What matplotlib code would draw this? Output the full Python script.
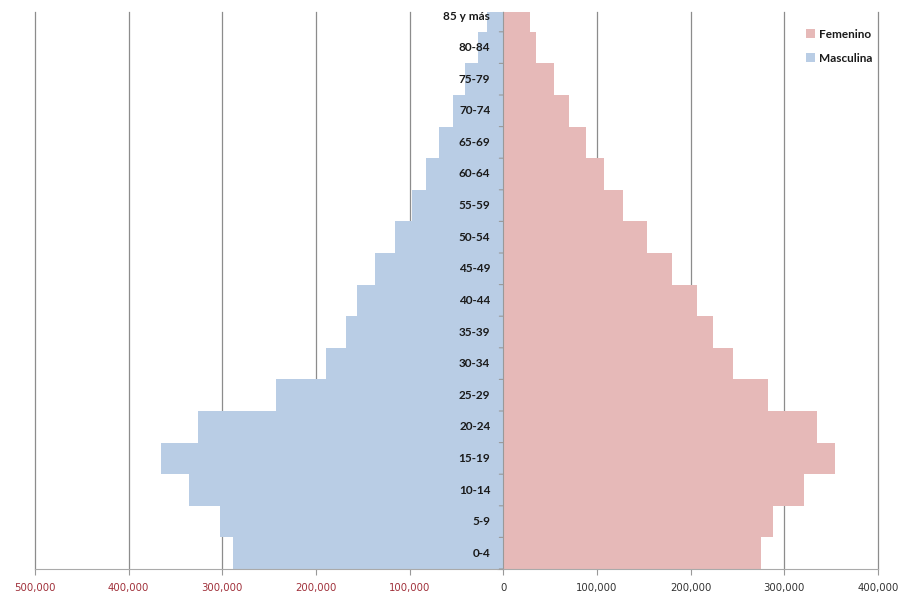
import matplotlib
matplotlib.use("Agg")
import matplotlib.pyplot as plt
from matplotlib.ticker import FuncFormatter, FixedLocator
from matplotlib.transforms import offset_copy
import numpy as np

groups = ["0-4", "5-9", "10-14", "15-19", "20-24", "25-29", "30-34", "35-39",
          "40-44", "45-49", "50-54", "55-59", "60-64", "65-69", "70-74",
          "75-79", "80-84", "85 y más"]
masculina = [288800, 302700, 335800, 365600, 326100, 242900, 189500, 168100,
             156400, 137200, 115800, 97700, 82700, 68900, 53900, 41100, 27200, 17600]
femenino = [274600, 288100, 321100, 353600, 335400, 282700, 245300, 223700,
            206600, 179900, 153200, 127600, 107300, 88100, 69900, 53900, 34700, 28300]
xticks = [-500000, -400000, -300000, -200000, -100000, 0, 100000, 200000, 300000, 400000]

fig = plt.figure(figsize=(9.01, 5.95), dpi=100)
W, H = 901, 595
left, right, top, bottom = 35, 878, 12, 569
ax = fig.add_axes([left / W, (H - bottom) / H, (right - left) / W, (bottom - top) / H])

pos = np.arange(len(groups))
ax.barh(pos, [-v for v in masculina], height=1.0, color="#B9CDE5", label="Masculina", zorder=2)
ax.barh(pos, femenino, height=1.0, color="#E6B9B8", label="Femenino", zorder=2)

ax.set_xlim(-500000, 400000)
group_px = 31.6
ax.set_ylim(-0.5, -0.5 + (bottom - top) / group_px)

ax.set_xticks(xticks)
ax.xaxis.set_major_formatter(FuncFormatter(lambda v, p: f"{abs(int(v)):,}"))
for lab, v in zip(ax.get_xticklabels(), xticks):
    lab.set_color("#A0303A" if v < 0 else "#333333")
    lab.set_fontfamily("DejaVu Sans")
    lab.set_fontsize(7.3)
ax.tick_params(axis="x", direction="out", length=4, color="#999999", pad=6)
ax.grid(axis="x", color="#8c8c8c", linewidth=0.9, zorder=0)
ax.set_axisbelow(True)
for gl in ax.get_xgridlines():
    gl.set_clip_on(False)

# y axis at zero
ax.spines["left"].set_position(("data", 0))
ax.spines["left"].set_color("#999999")
ax.spines["left"].set_zorder(3)
ax.spines["bottom"].set_color("#aaaaaa")
ax.spines["bottom"].set_zorder(3)
ax.spines["top"].set_visible(False)
ax.spines["right"].set_visible(False)

ax.yaxis.set_major_locator(FixedLocator(np.arange(-0.5, len(groups) + 0.5, 1.0)))
ax.yaxis.set_major_formatter(FuncFormatter(lambda v, p: ""))
ax.tick_params(axis="y", which="major", direction="out", length=4, color="#999999")

trans = offset_copy(ax.transData, fig=fig, x=-13, y=0, units="dots")
for p, g in zip(pos, groups):
    ax.text(0, p, g, transform=trans, ha="right", va="center",
            fontfamily="Lato", fontweight="bold", fontsize=8.5,
            color="#1a1a1a", zorder=5, clip_on=False)

# tick marks on the centre axis drawn over the bars
for b in np.arange(0.5, len(groups) - 0.5, 1.0):
    ax.plot([0, 0], [b, b], transform=ax.transData, alpha=0)
from matplotlib.lines import Line2D
tick_trans = offset_copy(ax.transData, fig=fig, x=0, y=0, units="dots")
for b in np.arange(-0.5, len(groups) + 0.5, 1.0):
    ax.annotate("", xy=(0, b), xycoords="data", xytext=(-4, 0), textcoords="offset pixels",
                arrowprops=dict(arrowstyle="-", color="#999999", lw=0.8, shrinkA=0, shrinkB=0),
                zorder=4, annotation_clip=True)

handles, labels = ax.get_legend_handles_labels()
leg = fig.legend([handles[1], handles[0]], [labels[1], labels[0]],
                 loc="upper left", bbox_to_anchor=(795 / W, 1 - 18 / H),
                 frameon=False, handlelength=0.8, handleheight=0.8,
                 handletextpad=0.3, labelspacing=1.1,
                 prop={"family": "Lato", "weight": "bold", "size": 8.5})
for t in leg.get_texts():
    t.set_color("#1a1a1a")

fig.savefig("out.png", dpi=100)
